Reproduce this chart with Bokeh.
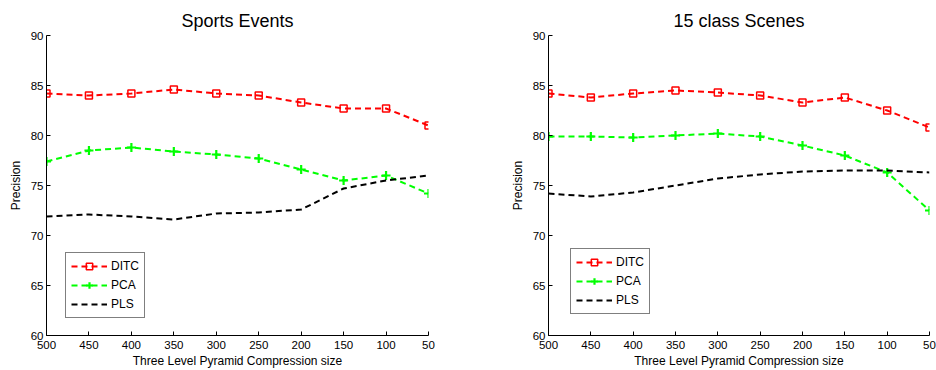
from bokeh.plotting import figure
from bokeh.models import Range1d, FixedTicker
from bokeh.layouts import row
from bokeh.embed import file_html
from bokeh.resources import INLINE

sizes = [500, 450, 400, 350, 300, 250, 200, 150, 100, 50]

sports_ditc = [84.2, 84.0, 84.2, 84.6, 84.2, 84.0, 83.3, 82.7, 82.7, 81.0]
sports_pca = [77.4, 78.5, 78.8, 78.4, 78.1, 77.7, 76.6, 75.5, 76.0, 74.2]
sports_pls = [71.9, 72.1, 71.9, 71.6, 72.2, 72.3, 72.6, 74.7, 75.5, 76.0]

scenes_ditc = [84.2, 83.8, 84.2, 84.5, 84.3, 84.0, 83.3, 83.8, 82.5, 80.8]
scenes_pca = [79.9, 79.9, 79.8, 80.0, 80.2, 79.9, 79.0, 78.0, 76.3, 72.5]
scenes_pls = [74.2, 73.9, 74.3, 75.0, 75.7, 76.1, 76.4, 76.5, 76.5, 76.3]

y_ticks = [60, 65, 70, 75, 80, 85, 90]
FONT = "Liberation Sans"


def make(title, ditc, pca, pls, width, bl, br, leg_loc):
    p = figure(width=width, height=370, x_range=Range1d(500, 50),
               y_range=Range1d(60, 90), output_backend="svg",
               toolbar_location=None, min_border_left=bl,
               min_border_right=br, min_border_top=35,
               min_border_bottom=35, title=title)
    p.title.align = "center"
    p.title.text_font = FONT
    p.title.text_font_size = "18px"
    p.title.text_font_style = "normal"
    p.title.text_color = "black"
    p.title.standoff = 10
    p.outline_line_color = None
    p.xgrid.visible = False
    p.ygrid.visible = False

    for ax in (p.xaxis[0], p.yaxis[0]):
        ax.major_tick_in = 4
        ax.major_tick_out = 0
        ax.minor_tick_in = 0
        ax.minor_tick_out = 0
        ax.axis_line_color = "black"
        ax.major_tick_line_color = "black"
        ax.major_label_text_font = FONT
        ax.major_label_text_font_size = "11.5px"
        ax.major_label_text_color = "black"
        ax.axis_label_text_font = FONT
        ax.axis_label_text_font_size = "12px"
        ax.axis_label_text_font_style = "normal"
        ax.axis_label_text_color = "black"
        ax.major_label_standoff = 3
    p.xaxis[0].ticker = FixedTicker(ticks=sizes)
    p.yaxis[0].ticker = FixedTicker(ticks=y_ticks)
    p.xaxis[0].axis_label = "Three Level Pyramid Compression size"
    p.yaxis[0].axis_label = "Precision"
    p.xaxis[0].major_label_standoff = 5
    p.xaxis[0].axis_label_standoff = 2
    p.yaxis[0].axis_label_standoff = 5

    p.line(sizes, ditc, line_color="#ff0000", line_width=2, line_dash="6 4",
           legend_label="DITC")
    p.scatter(sizes, ditc, marker="square", size=7, line_color="#ff0000",
              line_width=1.5, fill_color=None, legend_label="DITC")
    p.line(sizes, pca, line_color="#00ff00", line_width=2, line_dash="6 4",
           legend_label="PCA")
    p.scatter(sizes, pca, marker="cross", size=9, line_color="#00ff00",
              line_width=2.2, legend_label="PCA")
    p.line(sizes, pls, line_color="black", line_width=2, line_dash="6 4",
           legend_label="PLS")

    lg = p.legend[0]
    lg.location = leg_loc
    lg.border_line_color = "black"
    lg.border_line_width = 1.5
    lg.background_fill_alpha = 1
    lg.label_text_font = FONT
    lg.label_text_font_size = "12px"
    lg.label_text_color = "black"
    lg.glyph_width = 36
    lg.glyph_height = 16
    lg.label_height = 16
    lg.label_standoff = 4
    lg.spacing = 3
    lg.padding = 5
    lg.margin = 0
    return p


p1 = make("Sports Events", sports_ditc, sports_pca, sports_pls,
          468, 46, 40, (19, 17))
p2 = make("15 class Scenes", scenes_ditc, scenes_pca, scenes_pls,
          468, 80, 7, (22, 21))

layout = row(p1, p2)
open("out.html", "w").write(file_html(layout, INLINE))
